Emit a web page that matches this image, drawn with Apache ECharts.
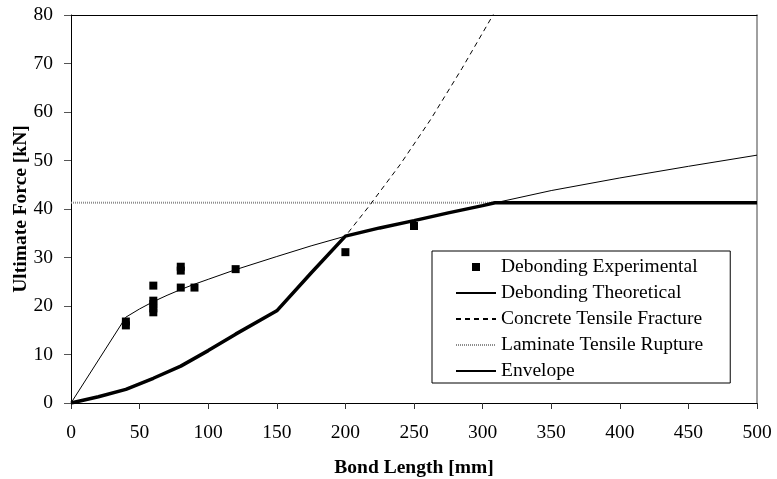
<!DOCTYPE html>
<html>
<head>
<meta charset="utf-8">
<script src="https://cdn.jsdelivr.net/npm/echarts@6/dist/echarts.min.js"></script>
<style>html,body{margin:0;padding:0;background:#fff}#c{width:777px;height:479px}</style>
</head>
<body>
<div id="c"></div>
<script>
// Data
const seriesNames = ['Debonding Experimental','Debonding Theoretical','Concrete Tensile Fracture','Laminate Tensile Rupture','Envelope'];
const experimental = [[40,16.8],[40,16.0],[60,24.2],[60,21.1],[60,20.4],[60,19.5],[60,18.7],[80,28.1],[80,27.3],[80,23.8],[90,23.8],[120,27.6],[200,31.1],[250,36.5]];
const theoretical = [[0,0],[40,17.7],[50,19.4],[60,20.9],[70,22.2],[80,23.4],[90,24.5],[100,25.5],[120,27.5],[150,30.2],[175,32.4],[200,34.4],[225,36.1],[250,37.6],[300,40.7],[350,43.8],[400,46.4],[450,48.8],[500,51.1]];
const concrete = [[0,0],[20,1.3],[40,2.8],[60,5.1],[80,7.6],[100,10.8],[120,14.2],[150,19.0],[175,26.8],[200,34.4],[217,40.5],[240,49.2],[262,58.4],[285,69.0],[308,80.2]];
const laminate = [[0,41.3],[500,41.3]];
const envelope = [[0,0],[20,1.3],[40,2.8],[60,5.1],[80,7.6],[100,10.8],[120,14.2],[150,19.0],[175,26.8],[200,34.4],[225,36.1],[250,37.6],[275,39.2],[300,40.7],[309,41.3],[500,41.3]];
const xTicks = {min:0,max:500,interval:50};
const yTicks = {min:0,max:80,interval:10};

const FONT = '"Liberation Serif","Times New Roman",serif';
const hideSym = {opacity:0};
const chart = echarts.init(document.getElementById('c'));
chart.setOption({
  animation:false,
  backgroundColor:'#fff',
  grid:{left:71,right:20,top:15,bottom:76,containLabel:false,outerBoundsMode:'none'},
  legend:{
    data:[
      {name:seriesNames[0], icon:'path://M0,0 M40,8 M16,0 L24,0 L24,8 L16,8 Z', itemStyle:{color:'#000',opacity:1}},
      {name:seriesNames[1], itemStyle:hideSym},
      {name:seriesNames[2], itemStyle:hideSym},
      {name:seriesNames[3], itemStyle:hideSym},
      {name:seriesNames[4], itemStyle:hideSym}
    ],
    orient:'vertical',
    left:432, top:251,
    itemWidth:40, itemHeight:8, itemGap:6,
    padding:[6,27,2,23],
    borderColor:'#000', borderWidth:1, backgroundColor:'#fff',
    textStyle:{fontFamily:FONT,fontSize:19.5,color:'#000',lineHeight:20},
    selectedMode:false
  },
  xAxis:[{
    type:'value', min:xTicks.min, max:xTicks.max, interval:xTicks.interval,
    name:'Bond Length [mm]', nameLocation:'middle', nameGap:55,
    nameTextStyle:{fontFamily:FONT,fontSize:19.5,fontWeight:'bold',color:'#000'},
    axisLine:{show:true,lineStyle:{color:'#000',width:1}},
    axisTick:{show:true,length:6,lineStyle:{color:'#333'}},
    axisLabel:{fontFamily:FONT,fontSize:19.5,color:'#000',margin:20},
    splitLine:{show:false}
  },{
    type:'value', position:'top', min:xTicks.min, max:xTicks.max,
    axisLine:{show:true,onZero:false,lineStyle:{color:'#000',width:1}},
    axisTick:{show:false}, axisLabel:{show:false}, splitLine:{show:false}
  }],
  yAxis:[{
    type:'value', min:yTicks.min, max:yTicks.max, interval:yTicks.interval,
    name:'Ultimate Force [kN]', nameLocation:'middle', nameGap:40, nameRotate:90, nameMoveOverlap:false,
    nameTextStyle:{fontFamily:FONT,fontSize:19.5,fontWeight:'bold',color:'#000'},
    axisLine:{show:true,lineStyle:{color:'#000',width:1}},
    axisTick:{show:true,length:7,lineStyle:{color:'#555'}},
    axisLabel:{fontFamily:FONT,fontSize:19.5,color:'#000',margin:18},
    splitLine:{show:false}
  },{
    type:'value', position:'right', min:yTicks.min, max:yTicks.max,
    axisLine:{show:true,onZero:false,lineStyle:{color:'#808080',width:1.5}},
    axisTick:{show:false}, axisLabel:{show:false}, splitLine:{show:false}
  }],
  series:[
    {name:seriesNames[3], type:'line', data:laminate, symbol:'none', z:2,
     lineStyle:{color:'#8c8c8c',width:2,type:[1,1]}, itemStyle:{color:'#8c8c8c'}},
    {name:seriesNames[2], type:'line', data:concrete, symbol:'none', z:3,
     lineStyle:{color:'#000',width:1,type:[5,4]}, itemStyle:{color:'#000'}},
    {name:seriesNames[1], type:'line', data:theoretical, symbol:'none', z:4,
     lineStyle:{color:'#000',width:1}, itemStyle:{color:'#000'}},
    {name:seriesNames[4], type:'line', data:envelope, symbol:'none', z:5,
     lineStyle:{color:'#000',width:3.5}, itemStyle:{color:'#000'}},
    {name:seriesNames[0], type:'scatter', data:experimental, symbol:'rect', symbolSize:8, z:6,
     itemStyle:{color:'#000',opacity:1}}
  ]
});
</script>
</body>
</html>
